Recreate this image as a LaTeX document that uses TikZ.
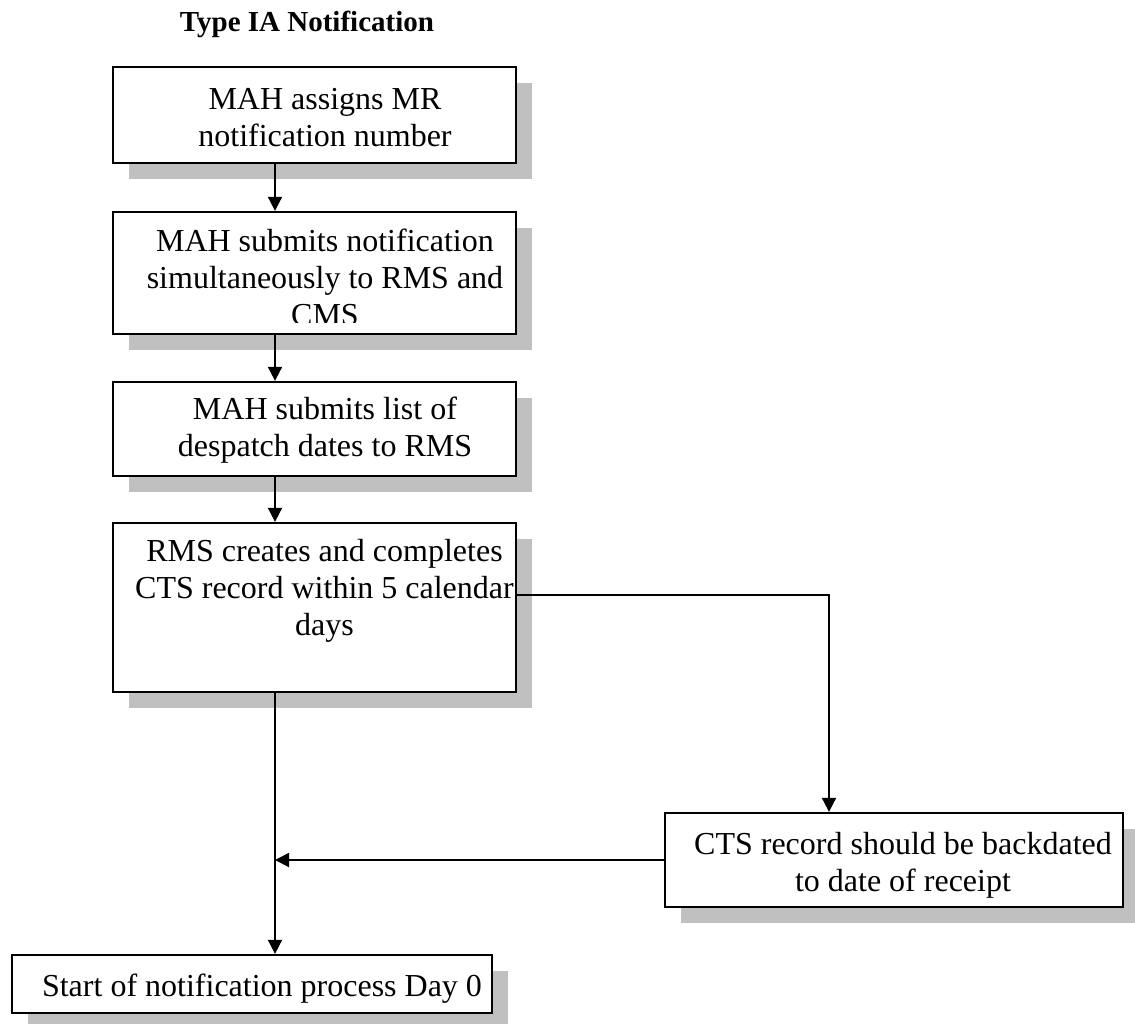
\documentclass[tikz,border=0pt]{standalone}
\usepackage{fontspec}
\setmainfont{Liberation Serif}
\usetikzlibrary{arrows.meta,shadows,calc}
\definecolor{shadowgray}{HTML}{C0C0C0}
\tikzset{
  stepbox/.style={draw=black, line width=2.3pt, fill=white, rectangle, inner sep=0pt,
    drop shadow={shadow xshift=16pt, shadow yshift=-16pt, fill=shadowgray, opacity=1}},
  boxtext/.style={align=center, inner sep=0pt, anchor=base,
    font=\fontsize{32}{36.8}\selectfont},
  arr/.style={line width=1.9pt, -{Triangle[length=14pt,width=14pt]}}
}
\begin{document}
\begin{tikzpicture}[x=1pt,y=-1pt]
\useasboundingbox (0,0) rectangle (1135,1023);

\node[font=\bfseries\fontsize{29}{33}\selectfont, anchor=base, inner sep=0pt] (title) at (307,31) {Type IA Notification};

\node[stepbox, minimum width=403pt, minimum height=96pt] (b1) at (314.5,115) {};
\node[stepbox, minimum width=403pt, minimum height=122pt] (b2) at (314.5,273) {};
\node[stepbox, minimum width=403pt, minimum height=94pt] (b3) at (314.5,429) {};
\node[stepbox, minimum width=403pt, minimum height=169pt] (b4) at (314.5,607.5) {};
\node[stepbox, minimum width=458pt, minimum height=94pt] (r) at (894,860) {};
\node[stepbox, minimum width=480pt, minimum height=58pt] (e) at (252,984) {};

\node[boxtext] (t1) at (325,146) {MAH assigns MR\\notification number};
\begin{scope}
  \clip (113,212) rectangle (516,322.5);
  \node[boxtext] (t2) at (325,325.5) {MAH submits notification\\simultaneously to RMS and\\CMS};
\end{scope}
\node[boxtext] (t3) at (325,456) {MAH submits list of\\despatch dates to RMS};
\node[boxtext] (t4) at (324.5,635) {RMS creates and completes\\CTS record within 5 calendar\\days};
\node[boxtext] (t5) at (903,891) {CTS record should be backdated\\to date of receipt};
\node[boxtext] (t6) at (262,996) {Start of notification process Day 0};

\coordinate (cx) at (275,0);
\coordinate (rx) at (829,0);
\coordinate (ry) at (0,595);
\coordinate (my) at (0,860);

\draw[arr] (b1.south -| cx) -- (b2.north -| cx);
\draw[arr] (b2.south -| cx) -- (b3.north -| cx);
\draw[arr] (b3.south -| cx) -- (b4.north -| cx);
\draw[arr] (b4.east |- ry) -| (r.north -| rx);
\draw[arr] (b4.south -| cx) -- (e.north -| cx);
\draw[arr] (r.west |- my) -- (cx |- my);
\end{tikzpicture}
\end{document}
